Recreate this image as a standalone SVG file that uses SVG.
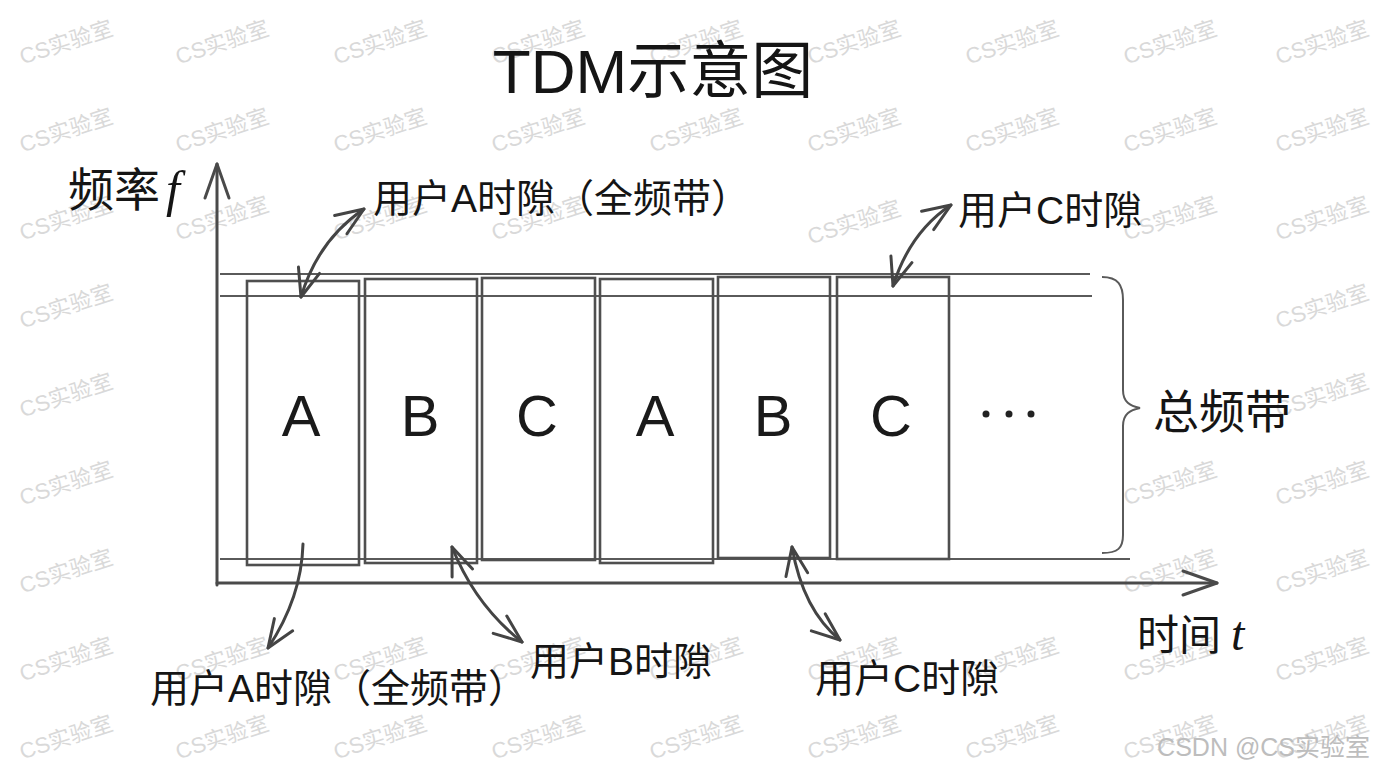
<svg xmlns="http://www.w3.org/2000/svg" width="1376" height="768" viewBox="0 0 1376 768">
<defs>
<style>
.wm{font-family:"Liberation Sans","Noto Sans CJK SC",sans-serif;font-size:22px;fill:#d9d9d9;text-anchor:middle}
.cj{font-family:"Liberation Sans","Noto Sans CJK SC",sans-serif;fill:#151515}
.lab{font-size:39px}
.let{font-family:"Liberation Sans",sans-serif;font-size:58px;fill:#1a1a1a;text-anchor:middle}
.ital{font-family:"Liberation Serif",serif;font-style:italic}
.band{stroke:#5a5a5a;stroke-width:2;fill:none}
.slot{stroke:#4f4f4f;stroke-width:2.6;fill:none}
.axis{stroke:#4a4a4a;stroke-width:3;fill:none;stroke-linecap:round}
.conn{stroke:#444;stroke-width:3;fill:none;stroke-linecap:round}
</style>
<marker id="ah" viewBox="0 0 32 26" refX="30" refY="13" markerWidth="32" markerHeight="26" markerUnits="userSpaceOnUse" orient="auto-start-reverse">
<path d="M2,2 L30,13 L2,24" fill="none" stroke="#444" stroke-width="3" stroke-linecap="round" stroke-linejoin="round"/>
</marker>
<marker id="axh" viewBox="0 0 38 28" refX="36" refY="14" markerWidth="38" markerHeight="28" markerUnits="userSpaceOnUse" orient="auto">
<path d="M2,2 L36,14 L2,26" fill="none" stroke="#4a4a4a" stroke-width="3" stroke-linecap="round" stroke-linejoin="round"/>
</marker>
</defs>
<rect x="0" y="0" width="1376" height="768" fill="#ffffff"/>

<g id="watermarks">
<text class="wm" x="66" y="50" transform="rotate(-18 66 42)">CS实验室</text>
<text class="wm" x="222" y="50" transform="rotate(-18 222 42)">CS实验室</text>
<text class="wm" x="380" y="50" transform="rotate(-18 380 42)">CS实验室</text>
<text class="wm" x="538" y="50" transform="rotate(-18 538 42)">CS实验室</text>
<text class="wm" x="696" y="50" transform="rotate(-18 696 42)">CS实验室</text>
<text class="wm" x="854" y="50" transform="rotate(-18 854 42)">CS实验室</text>
<text class="wm" x="1012" y="50" transform="rotate(-18 1012 42)">CS实验室</text>
<text class="wm" x="1170" y="50" transform="rotate(-18 1170 42)">CS实验室</text>
<text class="wm" x="1322" y="50" transform="rotate(-18 1322 42)">CS实验室</text>
<text class="wm" x="66" y="138" transform="rotate(-18 66 130)">CS实验室</text>
<text class="wm" x="222" y="138" transform="rotate(-18 222 130)">CS实验室</text>
<text class="wm" x="380" y="138" transform="rotate(-18 380 130)">CS实验室</text>
<text class="wm" x="538" y="138" transform="rotate(-18 538 130)">CS实验室</text>
<text class="wm" x="696" y="138" transform="rotate(-18 696 130)">CS实验室</text>
<text class="wm" x="854" y="138" transform="rotate(-18 854 130)">CS实验室</text>
<text class="wm" x="1012" y="138" transform="rotate(-18 1012 130)">CS实验室</text>
<text class="wm" x="1170" y="138" transform="rotate(-18 1170 130)">CS实验室</text>
<text class="wm" x="1322" y="138" transform="rotate(-18 1322 130)">CS实验室</text>
<text class="wm" x="66" y="226" transform="rotate(-18 66 218)">CS实验室</text>
<text class="wm" x="222" y="226" transform="rotate(-18 222 218)">CS实验室</text>
<text class="wm" x="380" y="226" transform="rotate(-18 380 218)">CS实验室</text>
<text class="wm" x="538" y="226" transform="rotate(-18 538 218)">CS实验室</text>
<text class="wm" x="854" y="230" transform="rotate(-18 854 222)">CS实验室</text>
<text class="wm" x="1170" y="226" transform="rotate(-18 1170 218)">CS实验室</text>
<text class="wm" x="1322" y="226" transform="rotate(-18 1322 218)">CS实验室</text>
<text class="wm" x="66" y="314" transform="rotate(-18 66 306)">CS实验室</text>
<text class="wm" x="1322" y="314" transform="rotate(-18 1322 306)">CS实验室</text>
<text class="wm" x="66" y="403" transform="rotate(-18 66 395)">CS实验室</text>
<text class="wm" x="1322" y="403" transform="rotate(-18 1322 395)">CS实验室</text>
<text class="wm" x="66" y="491" transform="rotate(-18 66 483)">CS实验室</text>
<text class="wm" x="1170" y="491" transform="rotate(-18 1170 483)">CS实验室</text>
<text class="wm" x="1322" y="491" transform="rotate(-18 1322 483)">CS实验室</text>
<text class="wm" x="66" y="579" transform="rotate(-18 66 571)">CS实验室</text>
<text class="wm" x="1170" y="579" transform="rotate(-18 1170 571)">CS实验室</text>
<text class="wm" x="1322" y="579" transform="rotate(-18 1322 571)">CS实验室</text>
<text class="wm" x="66" y="667" transform="rotate(-18 66 659)">CS实验室</text>
<text class="wm" x="222" y="667" transform="rotate(-18 222 659)">CS实验室</text>
<text class="wm" x="380" y="667" transform="rotate(-18 380 659)">CS实验室</text>
<text class="wm" x="538" y="667" transform="rotate(-18 538 659)">CS实验室</text>
<text class="wm" x="696" y="667" transform="rotate(-18 696 659)">CS实验室</text>
<text class="wm" x="854" y="667" transform="rotate(-18 854 659)">CS实验室</text>
<text class="wm" x="1012" y="667" transform="rotate(-18 1012 659)">CS实验室</text>
<text class="wm" x="1170" y="667" transform="rotate(-18 1170 659)">CS实验室</text>
<text class="wm" x="1322" y="667" transform="rotate(-18 1322 659)">CS实验室</text>
<text class="wm" x="66" y="745" transform="rotate(-18 66 737)">CS实验室</text>
<text class="wm" x="222" y="745" transform="rotate(-18 222 737)">CS实验室</text>
<text class="wm" x="380" y="745" transform="rotate(-18 380 737)">CS实验室</text>
<text class="wm" x="538" y="745" transform="rotate(-18 538 737)">CS实验室</text>
<text class="wm" x="696" y="745" transform="rotate(-18 696 737)">CS实验室</text>
<text class="wm" x="854" y="745" transform="rotate(-18 854 737)">CS实验室</text>
<text class="wm" x="1012" y="745" transform="rotate(-18 1012 737)">CS实验室</text>
<text class="wm" x="1170" y="745" transform="rotate(-18 1170 737)">CS实验室</text>
<text class="wm" x="1322" y="745" transform="rotate(-18 1322 737)">CS实验室</text>
<text x="1370" y="756" text-anchor="end" font-family="Liberation Sans, Noto Sans CJK SC, sans-serif" font-size="25" fill="#bdbdbd">CSDN @CS实验室</text>
</g>

<g id="title">
<text class="cj" x="653" y="93" font-size="62" text-anchor="middle">TDM示意图</text>
</g>

<g id="axes">
<line class="axis" x1="217" y1="585" x2="217" y2="164" marker-end="url(#axh)"/>
<line class="axis" x1="217" y1="583" x2="1217" y2="583" marker-end="url(#axh)"/>
<text class="cj" x="68" y="206" font-size="46">频率<tspan class="ital" dx="6" font-size="50">f</tspan></text>
<text class="cj" x="1137" y="650" font-size="42">时间<tspan class="ital" dx="10" font-size="48">t</tspan></text>
</g>

<g id="band">
<line class="band" x1="220" y1="274" x2="1090" y2="274"/>
<line class="band" x1="220" y1="296" x2="1092" y2="296"/>
<line class="band" x1="220" y1="559" x2="1130" y2="559"/>
<path class="band" stroke-width="2.4" d="M1102,277 C1118,277 1123,285 1123,300 L1123,390 C1123,402 1130,406 1140,408 C1130,410 1123,414 1123,426 L1123,535 C1123,548 1118,553 1102,553"/>
<text class="cj" x="1153" y="428" font-size="46">总频带</text>
</g>

<g id="slot-A1"><rect class="slot" x="247" y="281" width="112" height="284"/><text class="let" x="301" y="436">A</text></g>
<g id="slot-B1"><rect class="slot" x="365" y="279" width="112" height="284"/><text class="let" x="420" y="436">B</text></g>
<g id="slot-C1"><rect class="slot" x="482" y="278" width="113" height="282"/><text class="let" x="537" y="436">C</text></g>
<g id="slot-A2"><rect class="slot" x="600" y="279" width="113" height="284"/><text class="let" x="655" y="436">A</text></g>
<g id="slot-B2"><rect class="slot" x="718" y="277" width="112" height="281"/><text class="let" x="773" y="436">B</text></g>
<g id="slot-C2"><rect class="slot" x="837" y="277" width="112" height="282"/><text class="let" x="891" y="436">C</text></g>
<g id="slot-more"><circle cx="986" cy="414" r="3.5" fill="#222"/><circle cx="1009" cy="414" r="3.5" fill="#222"/><circle cx="1031" cy="414" r="3.5" fill="#222"/></g>

<g id="connectors">
<path class="conn" d="M301,297 Q318,240 364,209" marker-start="url(#ah)" marker-end="url(#ah)"/>
<path class="conn" d="M893,286 Q910,232 951,205" marker-start="url(#ah)" marker-end="url(#ah)"/>
<path class="conn" d="M303,544 C302,580 290,615 268,648" marker-end="url(#ah)"/>
<path class="conn" d="M452,547 Q475,605 522,642" marker-start="url(#ah)" marker-end="url(#ah)"/>
<path class="conn" d="M792,547 Q803,610 840,640" marker-start="url(#ah)" marker-end="url(#ah)"/>
</g>

<g id="labels">
<text class="cj lab" x="373" y="212">用户A时隙（全频带）</text>
<text class="cj lab" x="958" y="224">用户C时隙</text>
<text class="cj lab" x="150" y="702">用户A时隙（全频带）</text>
<text class="cj lab" x="530" y="675">用户B时隙</text>
<text class="cj lab" x="815" y="692">用户C时隙</text>
</g>
</svg>
